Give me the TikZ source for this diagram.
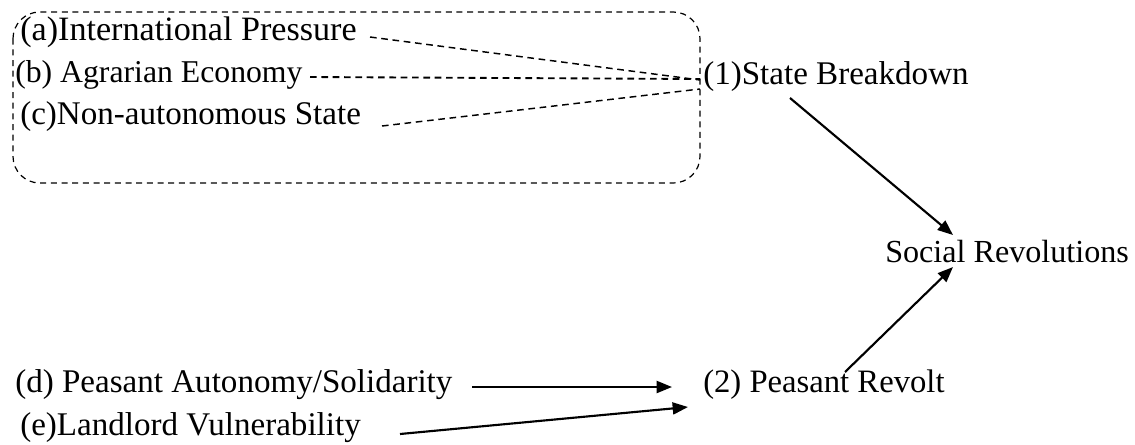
\documentclass[tikz,border=0pt]{standalone}
\usepackage{fontspec}
\setmainfont{Liberation Serif}
\usetikzlibrary{arrows.meta}
\begin{document}
\begin{tikzpicture}[x=0.75pt,y=-0.75pt,
  lab/.style={anchor=west,inner sep=0pt,font=\fontsize{#1}{30}\selectfont},
  lab/.default=24.8,
  dashconn/.style={line width=1.1pt,dash pattern=on 5pt off 3.5pt},
  arr/.style={line width=1.6pt,-{Triangle[length=11.5pt,width=9pt]}}]
\useasboundingbox (0,0) rectangle (1135,444);
\draw[line width=0.9pt,dash pattern=on 4.5pt off 3.5pt,rounded corners=20pt] (13,12) rectangle (700,183);
\node[lab=25.6] (a) at (20,32) {(a)International Pressure};
\node[lab=23.8] (b) at (15,75) {(b) Agrarian Economy};
\node[lab] (c) at (20,117) {(c)Non-autonomous State};
\node[lab] (sb) at (703,77) {(1)State Breakdown};
\node[lab=24.1] (sr) at (885,252) {Social Revolutions};
\node[lab] (d) at (15,385) {(d) Peasant Autonomy/Solidarity};
\node[lab=24.5] (pr) at (703,385) {(2) Peasant Revolt};
\node[lab] (e) at (20,428) {(e)Landlord Vulnerability};
\draw[dashconn] ([shift={(350,5)}]a.west) -- ([shift={(-3,3)}]sb.west);
\draw[dashconn,line width=1.4pt] ([shift={(295,2)}]b.west) -- ([shift={(-3,2)}]sb.west);
\draw[dashconn] ([shift={(362,9)}]c.west) -- ([shift={(-3,12)}]sb.west);
\draw[arr] ([shift={(87,21)}]sb.west) -- ([shift={(68,-17)}]sr.west);
\draw[arr] ([shift={(142,-13)}]pr.west) -- ([shift={(68,15)}]sr.west);
\draw[arr] ([shift={(457,2)}]d.west) -- ([shift={(-31,2)}]pr.west);
\draw[arr] ([shift={(380,6)}]e.west) -- ([shift={(-15,22)}]pr.west);
\end{tikzpicture}
\end{document}
